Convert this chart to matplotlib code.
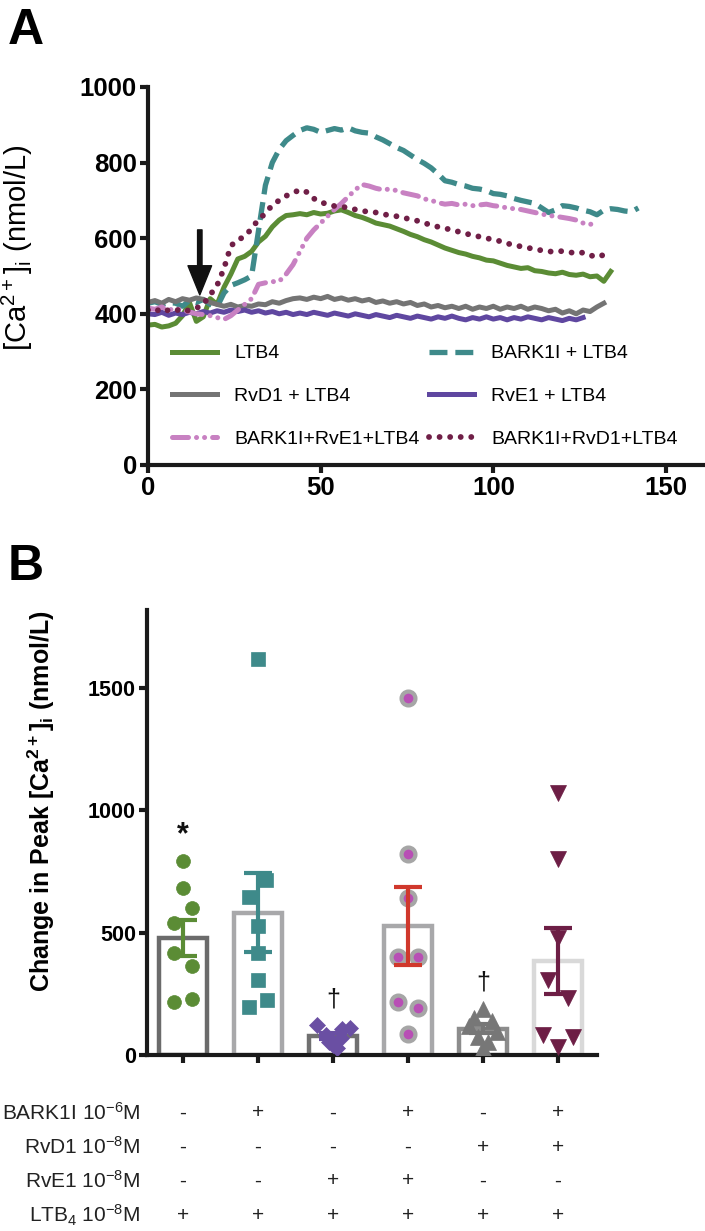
import numpy as np
import matplotlib
matplotlib.use("Agg")
import matplotlib.pyplot as plt
import matplotlib.transforms as mtransforms

plt.rcParams['font.family'] = ['Liberation Sans', 'DejaVu Sans']
plt.rcParams['mathtext.default'] = 'regular'

# ---------------- Panel A data: [Ca2+]i traces (nmol/L), sampled every 2 s ----------------
ltb4 = [370, 372, 365, 368, 375, 395, 430, 380, 392, 440, 425, 470, 505, 545, 552, 565,
        590, 605, 630, 648, 660, 662, 665, 662, 668, 664, 666, 672, 675, 668, 660, 655,
        648, 640, 636, 632, 625, 618, 610, 604, 596, 590, 582, 574, 568, 562, 558, 552,
        548, 542, 540, 534, 528, 524, 520, 522, 514, 512, 508, 506, 510, 504, 502, 505,
        498, 500, 486, 512]
bark_ltb4 = [428, 432, 425, 430, 428, 420, 435, 430, 438, 425, 418, 455, 475, 482, 490, 500,
             620, 740, 800, 835, 858, 872, 885, 892, 888, 880, 885, 890, 886, 892, 884, 880,
             878, 868, 860, 850, 840, 832, 820, 808, 798, 786, 770, 752, 748, 742, 738, 732,
             730, 726, 718, 716, 712, 705, 700, 696, 692, 680, 668, 675, 686, 684, 680, 674,
             670, 662, 674, 678, 676, 672, 670, 680]
rvd1_ltb4 = [430, 435, 428, 438, 432, 440, 436, 442, 438, 430, 425, 420, 425, 418, 422, 420,
             426, 424, 432, 428, 435, 440, 442, 438, 444, 440, 446, 438, 442, 436, 440, 434,
             438, 430, 434, 428, 432, 426, 430, 422, 426, 418, 422, 416, 420, 414, 420, 412,
             418, 414, 420, 412, 418, 414, 420, 412, 418, 414, 408, 412, 402, 408, 400, 410,
             406, 418, 428]
rve1_ltb4 = [400, 398, 404, 396, 402, 398, 404, 400, 406, 402, 408, 404, 410, 406, 410, 404,
             408, 402, 406, 400, 404, 398, 402, 398, 404, 400, 396, 402, 398, 394, 400, 396,
             392, 398, 394, 390, 396, 392, 388, 394, 390, 386, 392, 388, 394, 388, 384, 390,
             386, 392, 386, 390, 384, 390, 386, 392, 388, 384, 390, 386, 382, 388, 384, 390]
bark_rve1_ltb4 = [415, 412, 418, 410, 414, 410, 405, 400, 398, 395, 390, 385, 395, 410, 425, 440,
                  478, 482, 485, 486, 505, 530, 565, 600, 622, 640, 658, 676, 692, 710, 728, 742,
                  738, 732, 728, 730, 726, 720, 716, 712, 704, 700, 694, 690, 692, 688, 690, 686,
                  688, 690, 686, 684, 680, 678, 676, 672, 668, 664, 660, 658, 655, 652, 648, 640,
                  636, 645]
bark_rvd1_ltb4 = [410, 405, 415, 408, 412, 405, 410, 415, 425, 450, 475, 520, 580, 595, 605, 625,
                  650, 665, 688, 700, 712, 720, 728, 722, 705, 695, 690, 685, 684, 680, 676, 672,
                  670, 668, 664, 660, 658, 654, 650, 646, 640, 635, 630, 626, 622, 617, 612, 608,
                  604, 600, 596, 592, 586, 582, 578, 575, 570, 568, 565, 564, 566, 563, 560, 562,
                  555, 550, 556, 556]
t_step = 2
arrow_time = 15

trace_labels = ["LTB4", "RvD1 + LTB4", "BARK1I+RvE1+LTB4",
                "BARK1I + LTB4", "RvE1 + LTB4", "BARK1I+RvD1+LTB4"]

# ---------------- Panel B data: change in peak [Ca2+]i (nmol/L) ----------------
peak_ltb4 = [795, 681, 600, 539, 416, 364, 228, 216]
peak_bark = [1620, 716, 648, 529, 416, 307, 225, 195]
peak_rve1 = [122, 112, 108, 80, 68, 55, 42, 28]
peak_bark_rve1 = [1460, 821, 641, 402, 402, 218, 191, 85]
peak_rvd1 = [190, 150, 140, 120, 95, 75, 55, 30]
peak_bark_rvd1 = [1073, 800, 478, 307, 232, 82, 75, 32]
signif = ["*", "", "\u2020", "", "\u2020", ""]

row_labels = ["BARK1I 10$^{-6}$M", "RvD1 10$^{-8}$M", "RvE1 10$^{-8}$M", "LTB$_4$ 10$^{-8}$M"]
bark_row = ["-", "+", "-", "+", "-", "+"]
rvd1_row = ["-", "-", "-", "-", "+", "+"]
rve1_row = ["-", "-", "+", "+", "-", "-"]
ltb4_row = ["+", "+", "+", "+", "+", "+"]

# ---------------- figure ----------------
fig = plt.figure(figsize=(7.05, 12.31), dpi=100)
W, H = 705, 1231

def px_axes(l, r, top, bot):
    return fig.add_axes([l / W, 1 - bot / H, (r - l) / W, (bot - top) / H])

AXC = '#1a1a1a'

def style_axes(ax, size):
    for s in ['top', 'right']:
        ax.spines[s].set_visible(False)
    for s in ['left', 'bottom']:
        ax.spines[s].set_linewidth(3)
        ax.spines[s].set_color(AXC)
    ax.tick_params(direction='out', length=6, width=3, color=AXC, labelsize=size, pad=2)
    for lab in ax.get_xticklabels() + ax.get_yticklabels():
        lab.set_fontweight('bold')

# ---- Panel A ----
axA = px_axes(148, 705, 87, 465)
series = [
    (ltb4, '#5b8c35', 3.6, dict(ls='-')),
    (rvd1_ltb4, '#747474', 3.6, dict(ls='-')),
    (bark_rve1_ltb4, '#c881c2', 3.6, dict(ls=(0, (3.2, 1.6, 0.01, 1.6, 0.01, 1.6)), dash_capstyle='round')),
    (bark_ltb4, '#3e8a8a', 3.8, dict(ls=(0, (3.4, 1.5)))),
    (rve1_ltb4, '#5f47a0', 3.6, dict(ls='-')),
    (bark_rvd1_ltb4, '#701f47', 4.2, dict(ls=(0, (0.01, 1.8)), dash_capstyle='round')),
]
order = [0, 3, 1, 4, 2, 5]  # draw order
handles = {}
for k in order:
    vals, col, lw, kw = series[k]
    t = np.arange(len(vals)) * t_step
    h, = axA.plot(t, vals, color=col, lw=lw, label=trace_labels[k], **kw)
    handles[k] = h

axA.annotate('', xy=(arrow_time, 450), xytext=(arrow_time, 622),
             arrowprops=dict(width=3.2, headwidth=17, headlength=21, color='#111111'))

axA.set_xlim(0, 161.3)
axA.set_ylim(0, 1000)
axA.set_xticks([0, 50, 100, 150])
axA.set_yticks([0, 200, 400, 600, 800, 1000])
style_axes(axA, 18.5)
axA.set_ylabel("[Ca$^{2+}$]$_{i}$ (nmol/L)", fontsize=21)
axA.yaxis.set_label_coords(-0.203, 0.575)

leg = axA.legend([handles[k] for k in range(6)], trace_labels, ncol=2, loc='upper left',
                 bbox_to_anchor=(0.043, 0.318), frameon=False, fontsize=14,
                 handlelength=2.3, handletextpad=0.9, columnspacing=0.5,
                 labelspacing=1.3, borderpad=0, borderaxespad=0)

fig.text(8 / W, 1 - 44 / H, "A", fontsize=36, fontweight='bold')

# ---- Panel B ----
axB = px_axes(147, 597, 610, 1055)
groups = [peak_ltb4, peak_bark, peak_rve1, peak_bark_rve1, peak_rvd1, peak_bark_rvd1]
bar_edges = ['#6b6b6b', '#a8a8aa', '#707070', '#a8a8aa', '#8c8c8c', '#d9d9d9']
pt_colors = ['#5b8c35', '#3e8a8a', '#6a4fa3', '#b84fb5', '#777777', '#6d1e45']
err_colors = ['#5b8c35', '#3e8a8a', '#6a4fa3', '#d0382c', '#777777', '#6d1e45']
markers = ['o', 's', 'D', 'o', '^', 'v']
msizes = [10, 9.5, 8, 8, 11, 11]
jitter = [[0, 0, 0.12, -0.12, -0.12, 0.12, 0.12, -0.12],
          [0, 0.11, -0.12, 0, 0, 0, 0.12, -0.12],
          [-0.22, 0.22, 0.12, -0.1, 0.1, -0.05, 0.0, 0.05],
          [0, 0, 0, -0.13, 0.13, -0.13, 0.13, 0],
          [0, -0.12, 0.12, -0.19, 0.19, -0.07, 0.07, 0],
          [0, 0, 0, -0.13, 0.13, -0.2, 0.2, 0]]

x = np.arange(len(groups))
means = [np.mean(g) for g in groups]
sems = [np.std(g, ddof=1) / np.sqrt(len(g)) for g in groups]

axB.bar(x, means, width=0.64, facecolor='white', edgecolor=bar_edges, linewidth=3.2, zorder=1)
for i, g in enumerate(groups):
    xs = x[i] + np.array(jitter[i])
    if i == 3:
        axB.plot(xs, g, ls='none', marker='o', ms=10, mfc=pt_colors[i], mec='#a6a6a6',
                 mew=3, zorder=3)
    else:
        axB.plot(xs, g, ls='none', marker=markers[i], ms=msizes[i], mfc=pt_colors[i],
                 mec=pt_colors[i], mew=0.5, zorder=3)
    axB.errorbar(x[i], means[i], yerr=sems[i], fmt='none', ecolor=err_colors[i],
                 elinewidth=3, capsize=10, capthick=3, zorder=4)
    if signif[i]:
        axB.text(x[i], max(g) + 105, signif[i], ha='center', va='center',
                 fontsize=22 if signif[i] == '*' else 18, color='#111111',
                 fontweight='bold' if signif[i] == '*' else 'normal')

axB.set_xlim(-0.48, 5.52)
axB.set_ylim(0, 1820)
axB.set_xticks(x)
axB.set_xticklabels([])
axB.set_yticks([0, 500, 1000, 1500])
style_axes(axB, 15.5)
axB.set_ylabel("Change in Peak [Ca$^{2+}$]$_{i}$ (nmol/L)", fontsize=18, fontweight='bold')
axB.yaxis.set_label_coords(-0.2, 0.57)

fig.text(8 / W, 1 - 580 / H, "B", fontsize=36, fontweight='bold')

# treatment table under panel B
trans = mtransforms.blended_transform_factory(axB.transData, axB.transAxes)
rows = [bark_row, rvd1_row, rve1_row, ltb4_row]
row_y = [-0.13, -0.207, -0.283, -0.36]
for lab, r, yy in zip(row_labels, rows, row_y):
    axB.text(-0.015, yy, lab, transform=axB.transAxes, ha='right', va='center',
             fontsize=15, color='#222222')
    for i, s in enumerate(r):
        axB.text(x[i], yy, s, transform=trans, ha='center', va='center',
                 fontsize=15, color='#222222')

fig.savefig("out.png", dpi=100)
